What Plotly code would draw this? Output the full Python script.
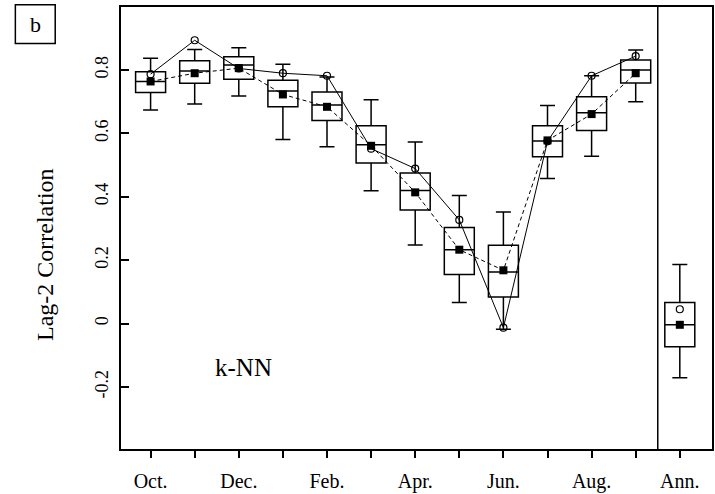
import plotly.graph_objects as go

# ---- data ----
months = ["Oct.", "Nov.", "Dec.", "Jan.", "Feb.", "Mar.", "Apr.", "May", "Jun.", "Jul.", "Aug.", "Sep.", "Ann."]
tick_labels = ["Oct.", "", "Dec.", "", "Feb.", "", "Apr.", "", "Jun.", "", "Aug.", "", "Ann."]
positions = [0, 1, 2, 3, 4, 5, 6, 7, 8, 9, 10, 11, 12]

whisker_low = [0.674, 0.693, 0.718, 0.581, 0.558, 0.419, 0.248, 0.066, -0.018, 0.458, 0.528, 0.700, -0.171]
q1 =          [0.729, 0.758, 0.771, 0.684, 0.641, 0.507, 0.358, 0.155, 0.084, 0.526, 0.609, 0.759, -0.073]
median =      [0.764, 0.797, 0.816, 0.734, 0.690, 0.564, 0.420, 0.233, 0.163, 0.576, 0.665, 0.800, -0.004]
q3 =          [0.795, 0.829, 0.842, 0.768, 0.731, 0.624, 0.475, 0.303, 0.247, 0.624, 0.716, 0.832, 0.066]
whisker_high = [0.837, 0.865, 0.870, 0.818, 0.778, 0.706, 0.573, 0.404, 0.352, 0.688, 0.782, 0.863, 0.186]
sim_mean =    [0.764, 0.790, 0.806, 0.723, 0.684, 0.561, 0.414, 0.233, 0.168, 0.578, 0.661, 0.790, -0.004]
observed =    [0.787, 0.894, 0.805, 0.790, 0.782, 0.552, 0.489, 0.327, -0.013, 0.575, 0.782, 0.844, 0.045]

y_ticks = [-0.2, 0, 0.2, 0.4, 0.6, 0.8]
y_tick_text = ["-0.2", "0", "0.2", "0.4", "0.6", "0.8"]

FONT = "Liberation Serif, Times New Roman, serif"

fig = go.Figure()

# monthly lines (Oct..Sep only)
fig.add_trace(go.Scatter(x=positions[:12], y=observed[:12], mode="lines",
                         line=dict(color="black", width=1), hoverinfo="skip"))
fig.add_trace(go.Scatter(x=positions[:12], y=sim_mean[:12], mode="lines",
                         line=dict(color="black", width=1, dash="4px,3px"), hoverinfo="skip"))

fig.add_trace(go.Box(
    x=positions, q1=q1, median=median, q3=q3,
    lowerfence=whisker_low, upperfence=whisker_high,
    width=0.68, whiskerwidth=0.5, boxpoints=False,
    line=dict(color="black", width=1.5), fillcolor="rgba(0,0,0,0)",
))

fig.add_trace(go.Scatter(x=positions, y=sim_mean, mode="markers",
                         marker=dict(symbol="square", size=8, color="black"), hoverinfo="skip"))
fig.add_trace(go.Scatter(x=positions, y=observed, mode="markers",
                         marker=dict(symbol="circle-open", size=7, color="black", line=dict(width=1.2)),
                         hoverinfo="skip"))

# separator between monthly and annual
fig.add_shape(type="line", xref="x", yref="paper", x0=11.5, x1=11.5, y0=0, y1=1,
              line=dict(color="black", width=1.5))

# panel label "b"
fig.add_shape(type="rect", xref="paper", yref="paper",
              x0=(15 - 121) / 593, x1=(55 - 121) / 593,
              y0=(452.3 - 44) / 445, y1=(452.3 - 5) / 445,
              line=dict(color="black", width=1.5))
fig.add_annotation(xref="paper", yref="paper", x=(35 - 121) / 593, y=(452.3 - 25) / 445,
                   text="b", showarrow=False, font=dict(size=22, family=FONT, color="black"),
                   xanchor="center", yanchor="middle")

fig.add_annotation(x=2.1, y=-0.14, text="k-NN", showarrow=False,
                   font=dict(size=25, family=FONT, color="black"))

fig.add_annotation(xref="paper", yref="paper", x=0, y=(452.3 - 257) / 445, xshift=-76,
                   text="Lag-2 Correlation", textangle=-90, showarrow=False,
                   font=dict(size=24, family=FONT, color="black"),
                   xanchor="center", yanchor="middle")

fig.update_layout(
    width=715, height=494,
    margin=dict(l=121, r=1, t=7, b=42),
    paper_bgcolor="white", plot_bgcolor="white",
    showlegend=False,
    font=dict(family=FONT, color="black"),
)
fig.update_xaxes(range=[-0.671, 12.73], tickvals=positions, ticktext=tick_labels,
                 ticks="outside", ticklen=7, tickwidth=1.5, tickcolor="black",
                 showline=True, linecolor="black", linewidth=1.5, mirror=True,
                 showgrid=False, zeroline=False, tickfont=dict(size=20, family=FONT),
                 ticklabelstandoff=6)
fig.update_yaxes(range=[-0.396, 0.999], tickvals=y_ticks, ticktext=y_tick_text,
                 ticks="inside", ticklen=8, tickwidth=1.5, tickcolor="black",
                 showline=True, linecolor="black", linewidth=1.5, mirror=True,
                 showgrid=False, zeroline=False, tickangle=-90,
                 tickfont=dict(size=18, family=FONT), ticklabelstandoff=4)

fig.write_html("out.html")
